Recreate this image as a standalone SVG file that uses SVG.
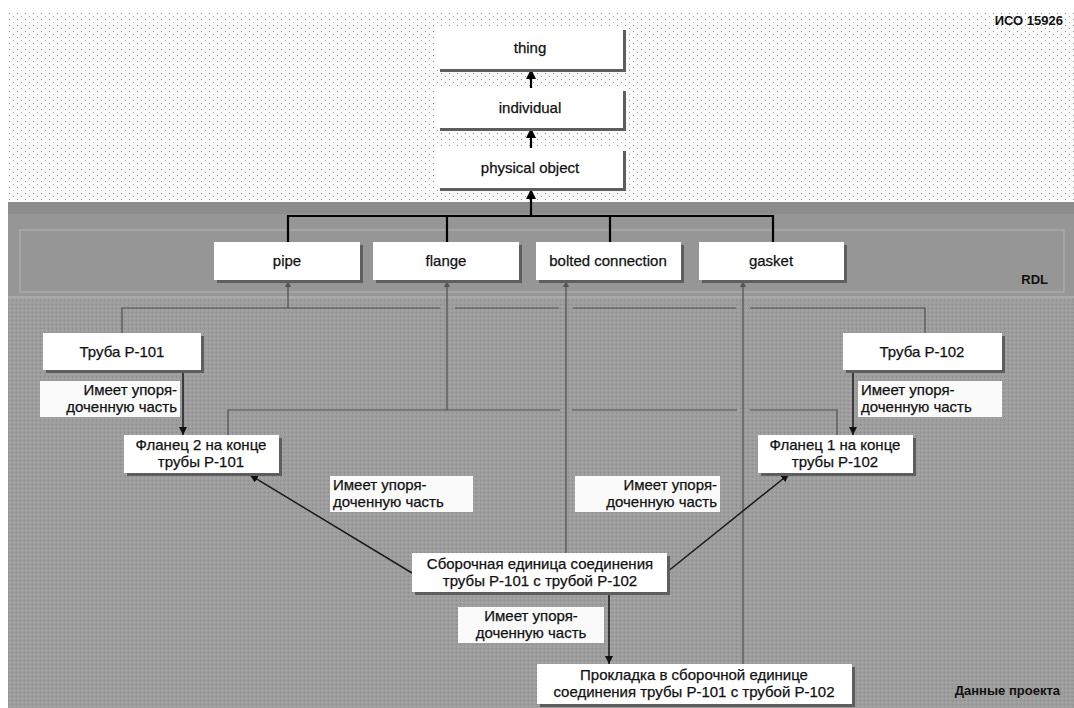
<svg xmlns="http://www.w3.org/2000/svg" width="1074" height="708" viewBox="0 0 1074 708">
<defs>
<pattern id="dots" width="8" height="6" patternUnits="userSpaceOnUse">
<rect width="8" height="6" fill="#fbfbfb"/>
<rect x="1" y="1" width="1" height="1" fill="#8a8a8a"/>
<rect x="5" y="4" width="1" height="1" fill="#a0a0a0"/>
</pattern>
<pattern id="noise" width="4" height="4" patternUnits="userSpaceOnUse">
<rect width="4" height="4" fill="#9d9d9d"/>
<rect x="0" y="0" width="1" height="1" fill="#8a8a8a"/>
<rect x="2" y="2" width="1" height="1" fill="#b0b0b0"/>
</pattern>
<marker id="ah" viewBox="0 0 10 10" refX="10" refY="5" markerWidth="8" markerHeight="8" markerUnits="userSpaceOnUse" orient="auto">
<path d="M0,0 L10,5 L0,10 z" fill="#111"/>
</marker>
<marker id="ahb" viewBox="0 0 10 10" refX="10" refY="5" markerWidth="10" markerHeight="10" markerUnits="userSpaceOnUse" orient="auto">
<path d="M0,0 L10,5 L0,10 z" fill="#000"/>
</marker>
<marker id="ahs" viewBox="0 0 10 10" refX="10" refY="5" markerWidth="6" markerHeight="6" markerUnits="userSpaceOnUse" orient="auto">
<path d="M0,0 L10,5 L0,10 z" fill="#555"/>
</marker>
</defs>
<style>
.t{font-family:"Liberation Sans",Arial,sans-serif;font-size:15px;fill:#111;stroke:#111;stroke-width:0.25;text-anchor:middle}
.l{font-family:"Liberation Sans",Arial,sans-serif;font-size:15px;fill:#111;stroke:#111;stroke-width:0.25}
.b{font-family:"Liberation Sans",Arial,sans-serif;font-size:13px;font-weight:bold;fill:#111}
.box{fill:#ffffff}
.sh{fill:#5e5e5e}
.lab{fill:#fafafa}
.rel{stroke:#1a1a1a;stroke-width:1.5;fill:none}
.top{stroke:#000;stroke-width:2.2;fill:none}
.cls{stroke:#505050;stroke-width:1.2;fill:none}
</style>
<rect width="1074" height="708" fill="#ffffff"/>
<rect x="8" y="12" width="1066" height="192" fill="url(#dots)"/>
<rect x="8" y="202" width="1066" height="506" fill="url(#noise)"/>
<rect x="8" y="202" width="1066" height="95" fill="#969696"/>
<rect x="8" y="202" width="1066" height="12" fill="#8c8c8c"/>
<rect x="20" y="230" width="1044" height="62" fill="none" stroke="#ababab" stroke-width="1.5"/>
<line x1="8" y1="297" x2="1074" y2="297" stroke="#b0b0b0" stroke-width="1.5"/>
<text class="b" x="1063" y="25" text-anchor="end">ИСО 15926</text>
<text class="b" x="1048" y="284" text-anchor="end">RDL</text>
<text class="b" x="1060" y="695" text-anchor="end">Данные проекта</text>

<g id="connectors">
<line class="top" x1="531" y1="88" x2="531" y2="69" marker-end="url(#ahb)"/>
<line class="top" x1="531" y1="148" x2="531" y2="128" marker-end="url(#ahb)"/>
<line class="top" x1="531" y1="216" x2="531" y2="189" marker-end="url(#ahb)"/>
<path class="top" d="M288,242 V216 H773 V242 M447,216 V242 M610,216 V242"/>
<path class="cls" d="M122,333 V308 H440 M455,308 H559 M573,308 H736 M750,308 H925 V333"/>
<line class="cls" x1="288" y1="308" x2="288" y2="281" marker-end="url(#ahs)"/>
<path class="cls" d="M228,435 V410 H560 M572,410 H737 M750,410 H837 V435"/>
<line class="cls" x1="447" y1="410" x2="447" y2="281" marker-end="url(#ahs)"/>
<line class="cls" x1="566" y1="553" x2="566" y2="281" marker-end="url(#ahs)"/>
<line class="cls" x1="743" y1="664" x2="743" y2="281" marker-end="url(#ahs)"/>
<line class="rel" x1="183" y1="370" x2="183" y2="435" marker-end="url(#ah)"/>
<line class="rel" x1="853" y1="370" x2="853" y2="435" marker-end="url(#ah)"/>
<line class="rel" x1="412" y1="573" x2="250" y2="475" marker-end="url(#ah)"/>
<line class="rel" x1="667" y1="572" x2="789" y2="474" marker-end="url(#ah)"/>
<line class="rel" x1="609" y1="592" x2="609" y2="664" marker-end="url(#ah)"/>
</g>

<g id="lab1"><rect class="lab" x="40" y="381" width="140" height="36"/><text class="l" x="177" y="395" text-anchor="end">Имеет упоря-</text><text class="l" x="177" y="412" text-anchor="end">доченную часть</text></g>
<g id="lab2"><rect class="lab" x="858" y="381" width="144" height="36"/><text class="l" x="861" y="395">Имеет упоря-</text><text class="l" x="861" y="412">доченную часть</text></g>
<g id="lab3"><rect class="lab" x="330" y="476" width="143" height="36"/><text class="l" x="333" y="490">Имеет упоря-</text><text class="l" x="333" y="507">доченную часть</text></g>
<g id="lab4"><rect class="lab" x="575" y="476" width="145" height="36"/><text class="l" x="717" y="490" text-anchor="end">Имеет упоря-</text><text class="l" x="717" y="507" text-anchor="end">доченную часть</text></g>
<g id="lab5"><rect class="lab" x="458" y="607" width="146" height="36"/><text class="t" x="531" y="621">Имеет упоря-</text><text class="t" x="531" y="638">доченную часть</text></g>

<g id="thing"><rect class="sh" x="440" y="30" width="186" height="42"/><rect class="box" x="437" y="27" width="186" height="42"/><text class="t" x="530" y="53">thing</text></g>
<g id="individual"><rect class="sh" x="440" y="91" width="186" height="40"/><rect class="box" x="437" y="88" width="186" height="40"/><text class="t" x="530" y="113">individual</text></g>
<g id="physical-object"><rect class="sh" x="440" y="151" width="186" height="40"/><rect class="box" x="437" y="148" width="186" height="40"/><text class="t" x="530" y="173">physical object</text></g>

<g id="pipe"><rect class="sh" x="217" y="245" width="146" height="38"/><rect class="box" x="214" y="242" width="146" height="38"/><text class="t" x="287" y="266">pipe</text></g>
<g id="flange"><rect class="sh" x="376" y="245" width="146" height="38"/><rect class="box" x="373" y="242" width="146" height="38"/><text class="t" x="446" y="266">flange</text></g>
<g id="bolted-connection"><rect class="sh" x="539" y="245" width="145" height="38"/><rect class="box" x="536" y="242" width="145" height="38"/><text class="t" x="608" y="266">bolted connection</text></g>
<g id="gasket"><rect class="sh" x="702" y="245" width="145" height="38"/><rect class="box" x="699" y="242" width="145" height="38"/><text class="t" x="771" y="266">gasket</text></g>

<g id="pipe-p101"><rect class="sh" x="46" y="336" width="158" height="37"/><rect class="box" x="43" y="333" width="158" height="37"/><text class="t" x="122" y="357">Труба Р-101</text></g>
<g id="pipe-p102"><rect class="sh" x="846" y="336" width="159" height="37"/><rect class="box" x="843" y="333" width="159" height="37"/><text class="t" x="922" y="357">Труба Р-102</text></g>
<g id="flange2"><rect class="sh" x="127" y="438" width="155" height="38"/><rect class="box" x="124" y="435" width="155" height="38"/><text class="t" x="201" y="450">Фланец 2 на конце</text><text class="t" x="201" y="467">трубы Р-101</text></g>
<g id="flange1"><rect class="sh" x="761" y="438" width="155" height="38"/><rect class="box" x="758" y="435" width="155" height="38"/><text class="t" x="835" y="450">Фланец 1 на конце</text><text class="t" x="835" y="467">трубы Р-102</text></g>
<g id="assembly"><rect class="sh" x="415" y="556" width="255" height="39"/><rect class="box" x="412" y="553" width="255" height="39"/><text class="t" x="540" y="569">Сборочная единица соединения</text><text class="t" x="540" y="586">трубы Р-101 с трубой Р-102</text></g>
<g id="gasket-inst"><rect class="sh" x="540" y="667" width="315" height="40"/><rect class="box" x="537" y="664" width="315" height="40"/><text class="t" x="694" y="680">Прокладка в сборочной единице</text><text class="t" x="694" y="697">соединения трубы Р-101 с трубой Р-102</text></g>
</svg>
